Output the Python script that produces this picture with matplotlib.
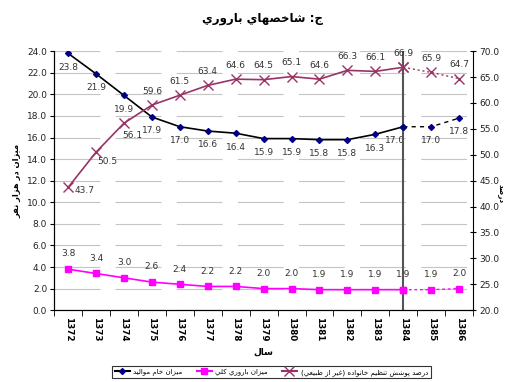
import matplotlib
matplotlib.use("Agg")
import matplotlib.pyplot as plt

plt.rcParams["font.family"] = ["DejaVu Sans"]
plt.rcParams["lines.scale_dashes"] = False

# data
years = ["1372", "1373", "1374", "1375", "1376", "1377", "1378", "1379",
         "1380", "1381", "1382", "1383", "1384", "1385", "1386"]
birth_rate = [23.8, 21.9, 19.9, 17.9, 17.0, 16.6, 16.4, 15.9, 15.9, 15.8, 15.8, 16.3, 17.0, 17.0, 17.8]
fertility = [3.8, 3.4, 3.0, 2.6, 2.4, 2.2, 2.2, 2.0, 2.0, 1.9, 1.9, 1.9, 1.9, 1.9, 2.0]
coverage = [43.7, 50.5, 56.1, 59.6, 61.5, 63.4, 64.6, 64.5, 65.1, 64.6, 66.3, 66.1, 66.9, 65.9, 64.7]
split = 12  # index of 1384, after it values are projected

# simple arabic shaping (matplotlib has no complex text layout)
DUAL = {"ب": 0xFE8F, "ت": 0xFE95, "ث": 0xFE99, "ج": 0xFE9D, "ح": 0xFEA1, "خ": 0xFEA5,
        "س": 0xFEB1, "ش": 0xFEB5, "ص": 0xFEB9, "ض": 0xFEBD, "ط": 0xFEC1, "ظ": 0xFEC5,
        "ع": 0xFEC9, "غ": 0xFECD, "ف": 0xFED1, "ق": 0xFED5, "ك": 0xFED9, "ل": 0xFEDD,
        "م": 0xFEE1, "ن": 0xFEE5, "ه": 0xFEE9, "ي": 0xFEF1, "پ": 0xFB56}
RIGHT = {"ا": 0xFE8D, "د": 0xFEA9, "ذ": 0xFEAB, "ر": 0xFEAD, "ز": 0xFEAF, "و": 0xFEED,
         "ة": 0xFE93, "ى": 0xFEEF, "آ": 0xFE81}
MIRROR = {"(": ")", ")": "("}


def fa(s):
    out = []
    for i, c in enumerate(s):
        if c in DUAL or c in RIGHT:
            prev = s[i - 1] if i > 0 else ""
            nxt = s[i + 1] if i + 1 < len(s) else ""
            jp = prev in DUAL
            jn = c in DUAL and (nxt in DUAL or nxt in RIGHT)
            base = DUAL.get(c, RIGHT.get(c))
            off = 3 if (jp and jn) else 1 if jp else 2 if jn else 0
            out.append(chr(base + off))
        else:
            out.append(MIRROR.get(c, c))
    return "".join(reversed(out))


fig = plt.figure(figsize=(5.06, 3.82), dpi=100)
ax = fig.add_axes([0.107, 0.188, 0.828, 0.678])
ax2 = ax.twinx()

x = list(range(len(years)))
xa, xb = x[:split + 1], x[split:]

# black: crude birth rate
ax.plot(xa, birth_rate[:split + 1], color="black", lw=1.2, marker="D", ms=3,
        mfc="#000080", mec="#000080", zorder=4)
ax.plot(xb, birth_rate[split:], color="black", lw=1.0, ls=(0, (3, 3)), marker="D", ms=3,
        mfc="#000080", mec="#000080", zorder=4)
# magenta: total fertility
ax.plot(xa, fertility[:split + 1], color="#FF00FF", lw=1.2, marker="s", ms=4, zorder=4)
ax.plot(xb, fertility[split:], color="#FF00FF", lw=1.0, ls=(0, (2, 2)), marker="s", ms=4, zorder=4)
# purple: contraception coverage (right axis)
ax2.plot(xa, coverage[:split + 1], color="#993366", lw=1.2, marker="x", ms=7, mew=1.0)
ax2.plot(xb, coverage[split:], color="#993366", lw=1.0, ls=(0, (1.5, 2)), marker="x", ms=7, mew=1.0)

lab = dict(fontsize=6.5, color="#333333", ha="center", va="center")
for i, v in enumerate(birth_rate):
    dx = -6 if i == split else 0
    ax.annotate(f"{v:.1f}", (i, v), xytext=(dx, -10), textcoords="offset points", **lab)
for i, v in enumerate(fertility):
    ax.annotate(f"{v:.1f}", (i, v), xytext=(0, 11), textcoords="offset points", **lab)
cov_off = {0: (12, -2), 1: (8, -7), 2: (6, -9)}
for i, v in enumerate(coverage):
    dx, dy = cov_off.get(i, (0, 10))
    ax2.annotate(f"{v:.1f}", (i, v), xytext=(dx, dy), textcoords="offset points", **lab)

ax.axvline(split, color="#555555", lw=1.5, zorder=3)

ax.set_xlim(-0.5, len(years) - 0.5)
ax.set_ylim(0, 24)
ax2.set_ylim(20, 70)
ax.set_yticks([0, 2, 4, 6, 8, 10, 12, 14, 16, 18, 20, 22, 24])
ax2.set_yticks([20, 25, 30, 35, 40, 45, 50, 55, 60, 65, 70])
ax.set_yticklabels([f"{v:.1f}" for v in ax.get_yticks()], fontsize=6.5, color="#222222")
ax2.set_yticklabels([f"{v:.1f}" for v in ax2.get_yticks()], fontsize=6.5, color="#222222")

ax.set_xticks(x)
ax.set_xticklabels(years, rotation=-90, fontsize=6.3, fontweight="bold")
ax.set_xticks([i - 0.5 for i in range(len(years) + 1)], minor=True)
ax.tick_params(axis="x", which="major", length=0, pad=5)
ax.tick_params(axis="x", which="minor", length=4, direction="out", color="black")
ax.tick_params(axis="y", length=3, direction="out", pad=2)
ax2.tick_params(axis="y", length=5, direction="inout", pad=2)

ax.grid(axis="y", color="#c4c4c4", lw=0.8, ls=(0, (33, 11)))
ax.set_axisbelow(True)
for a in (ax, ax2):
    a.spines["top"].set_visible(False)
ax.spines["right"].set_visible(False)

fig.text(0.518, 0.952, fa("ج: شاخصهاي باروري"), ha="center", va="center",
         fontsize=8.5, fontweight="bold")
ax.set_xlabel(fa("سال"), fontsize=6.5, fontweight="bold", labelpad=4)
ax.set_ylabel(fa("ميزان در هزار نفر"), fontsize=6, fontweight="bold", labelpad=4)
fig.text(0.99, 0.494, fa("درصد"), fontsize=5.2, fontweight="bold", rotation=-90,
         ha="center", va="center")

handles = [
    plt.Line2D([], [], color="black", marker="D", ms=3, mfc="#000080", mec="#000080"),
    plt.Line2D([], [], color="#FF00FF", marker="s", ms=4),
    plt.Line2D([], [], color="#993366", marker="x", ms=7),
]
names = [fa("ميزان خام مواليد"), fa("ميزان باروري كلي"),
         fa("درصد پوشش تنظيم خانواده (غير از طبيعي)")]
leg = fig.legend(handles, names, loc="upper center", bbox_to_anchor=(0.536, 0.052),
                 ncol=3, fontsize=5, frameon=True, fancybox=False, edgecolor="black",
                 handlelength=2.2, handletextpad=0.5, columnspacing=2.0, borderpad=0.4)
leg.get_frame().set_linewidth(0.8)

fig.savefig("out.png", dpi=100)
